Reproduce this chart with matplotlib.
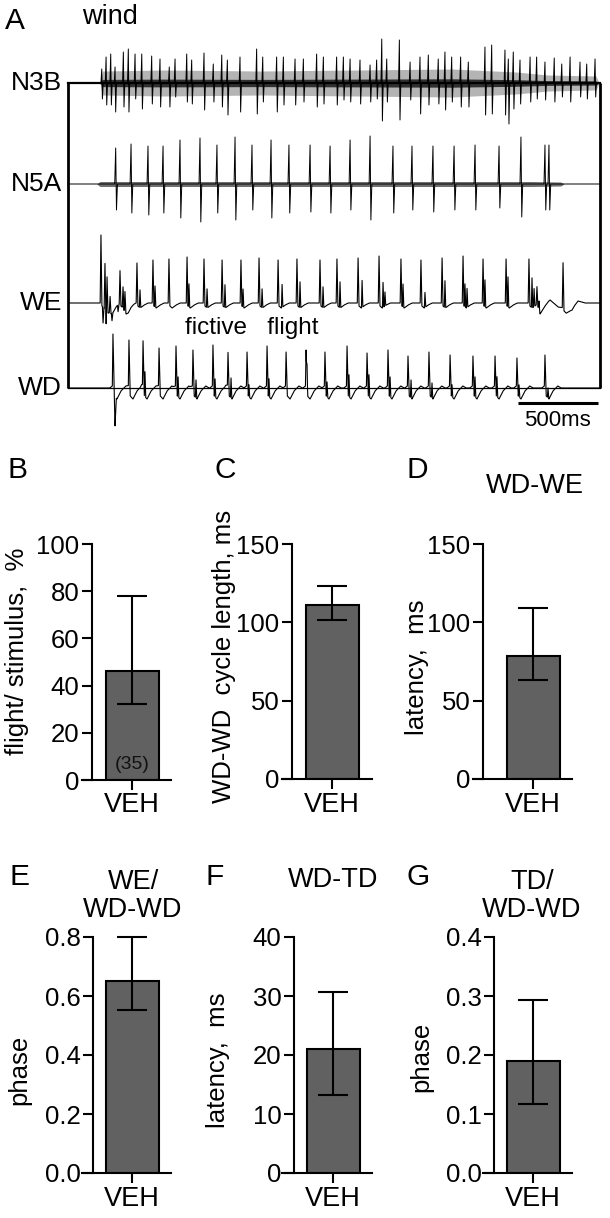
import numpy as np
import matplotlib

matplotlib.use("Agg")
import matplotlib.pyplot as plt

plt.rcParams["font.family"] = ["Liberation Sans", "DejaVu Sans"]

W, H = 610, 1218

# ---- panel A: recorded traces (spike times in ms from wind onset box edge, amplitudes in a.u.)
n3b_t = [211, 238, 267, 294, 346, 377, 419, 461, 523, 575, 633, 669, 742, 773, 850, 908,
         961, 996, 1075, 1179, 1217, 1304, 1346, 1419, 1471, 1554, 1596, 1679, 1721, 1763,
         1825, 1888, 1929, 1961, 1992, 2071, 2138, 2200, 2252, 2314, 2356, 2398, 2454, 2502,
         2606, 2648, 2731, 2752, 2783, 2825, 2888, 2929, 2981, 3039, 3086, 3138, 3200, 3242, 3294]
n3b_up = [14, 26, 29, 16, 31, 34, 29, 29, 27, 24, 16, 24, 29, 23, 30, 19,
          28, 23, 26, 34, 26, 26, 26, 24, 24, 29, 26, 26, 26, 24,
          23, 18, 23, 44, 24, 43, 21, 26, 28, 24, 31, 26, 26, 21,
          36, 38, 33, 24, 31, 23, 26, 26, 21, 25, 19, 26, 21, 19, 24]
n3b_down = [16, 22, 22, 29, 24, 29, 16, 26, 21, 24, 24, 14, 19, 21, 27, 19,
            24, 32, 29, 31, 19, 29, 22, 22, 19, 24, 21, 22, 17, 19,
            21, 19, 16, 38, 19, 37, 17, 31, 22, 21, 27, 19, 24, 24,
            32, 31, 32, 41, 26, 21, 19, 16, 17, 19, 14, 19, 14, 16, 14]
n3b_band_t = [200, 215, 600, 1200, 1800, 2400, 2800, 3000, 3300, 3320]
n3b_band = [0, 12, 13, 12, 13, 14, 11, 8, 7, 0]

n5a_t = [298, 394, 500, 594, 700, 825, 931, 1044, 1150, 1269, 1381, 1513, 1638, 1763,
         1888, 2031, 2150, 2281, 2413, 2544, 2694, 2831, 2981, 3006]
n5a_up = [36, 40, 38, 38, 44, 46, 39, 47, 39, 44, 39, 39, 38, 44,
          48, 38, 38, 38, 38, 39, 38, 47, 39, 39]
n5a_down = [26, 29, 31, 29, 34, 38, 29, 36, 26, 34, 29, 28, 29, 26,
            36, 29, 26, 28, 26, 26, 24, 33, 26, 26]
n5a_band_t = [180, 200, 1500, 2900, 3080, 3100]
n5a_band = [0, 2.5, 2.5, 2.5, 2, 0]

we_t = [206, 231, 244, 263, 325, 344, 356, 431, 531, 631, 744, 850, 963, 1081, 1194,
        1313, 1431, 1575, 1681, 1813, 1944, 2081, 2206, 2338, 2469, 2594, 2738, 2881,
        2931, 3094]
we_h = [68, 44, 33, 16, 33, 21, 19, 40, 43, 44, 46, 44, 43, 43, 45,
        43, 44, 43, 44, 45, 47, 44, 43, 45, 47, 44, 44, 44, 18, 45]
we_sec_t = [450, 544, 756, 869, 981, 1094, 1213, 1338, 1450, 1594, 1700, 1838, 1969,
            1981, 2094, 2231, 2356, 2481, 2494, 2606, 2750, 2900, 2913, 2944]
we_sec_h = [18, 21, 23, 19, 23, 18, 19, 23, 26, 21, 26, 27, 25,
            14, 23, 15, 27, 23, 19, 27, 30, 30, 18, 9]
we_neg_t = [219, 238, 275, 313]
we_neg_h = [-16, -14, -8, -7]
we_wave_t = [2940, 2950, 3013, 3063, 3150, 3188, 3231, 3260]
we_wave_v = [0, -6, 3, -4, -6, 2, 0, 0]

wd_t = [281, 381, 469, 569, 675, 781, 906, 1000, 1119, 1244, 1363, 1488, 1606, 1744,
        1869, 2000, 2125, 2256, 2388, 2531, 2669, 2806, 2981]
wd_h = [54, 48, 46, 40, 42, 38, 43, 35, 36, 42, 36, 38, 36, 42,
        35, 38, 32, 36, 33, 32, 32, 30, 33]
wd_sec_t = [481, 688, 800, 919, 1019, 1131, 1256, 1494, 1619, 1756, 1881, 2013, 2144,
            2275, 2400, 2544, 2681, 2819, 3000]
wd_sec_h = [25, 20, 18, 18, 20, 12, 18, 20, 15, 22, 22, 20, 18, 15, 12, 20, 20, 12, 10]
wd_neg_t = [294]
wd_neg_h = [-29]

# ---- panels B-G: mean with asymmetric error bars
panel_names = ["B", "C", "D", "E", "F", "G"]
bar_mean = [46, 111, 78.5, 0.652, 21.1, 0.19]
bar_lo = [32, 101.5, 63.5, 0.553, 13.2, 0.117]
bar_hi = [78, 123, 109, 0.80, 30.7, 0.293]
ylims = [100, 150, 150, 0.8, 40, 0.4]
yticks = [[0, 20, 40, 60, 80, 100], [0, 50, 100, 150], [0, 50, 100, 150],
          [0.0, 0.2, 0.4, 0.6, 0.8], [0, 10, 20, 30, 40], [0.0, 0.1, 0.2, 0.3, 0.4]]
ytick_fmt = ["{:g}", "{:g}", "{:g}", "{:.1f}", "{:g}", "{:.1f}"]
ylabels = ["flight/ stimulus,  %", "WD-WD  cycle length, ms", "latency,  ms",
           "phase", "latency,  ms", "phase"]
titles = [None, None, "WD-WE", "WE/\nWD-WD", "WD-TD", "TD/\nWD-WD"]
group = "VEH"
n_label = "(35)"

GRID = np.arange(0, 3326, 1.0)
FS = 18.5


def fx(px):
    return px / W


def fy(px):
    return 1 - px / H


def add_spikes(y, times, heights, dt, peak, tail=None):
    dt = np.asarray(dt, dtype=float)
    peak = np.asarray(peak, dtype=float)
    tail = np.zeros_like(peak) if tail is None else np.asarray(tail, dtype=float)
    for t, h in zip(times, heights):
        y += np.interp(GRID, t + dt, h * peak + tail, left=0, right=0)
    return y


def draw_traces(fig):
    ax = fig.add_axes([fx(68), fy(440), fx(532), 420 / H])
    ax.set_xlim(0, 3325)
    ax.set_ylim(-357, 63)
    ax.axis("off")
    off = {"N3B": 0, "N5A": -101, "WE": -220, "WD": -305}

    # N3B: dense multiunit band + larger units
    band = np.interp(GRID, n3b_band_t, n3b_band)
    ax.fill_between(GRID, off["N3B"] + band, off["N3B"] - band, color="#b4b4b4", lw=0)
    ax.fill_between(GRID, off["N3B"] + band * 0.3, off["N3B"] - band * 0.3,
                    color="#303030", lw=0)
    y = np.zeros_like(GRID)
    add_spikes(y, n3b_t, n3b_up, [-5, 0, 4, 9], [0, 1, 0, 0])
    add_spikes(y, n3b_t, n3b_down, [-5, 0, 4, 9], [0, 0, -1, 0])
    ax.plot(GRID, off["N3B"] + y, color="black", lw=0.7)

    # N5A
    band = np.interp(GRID, n5a_band_t, n5a_band)
    ax.fill_between(GRID, off["N5A"] + band, off["N5A"] - band, color="#707070", lw=0)
    y = np.zeros_like(GRID)
    add_spikes(y, n5a_t, n5a_up, [-6, 0, 5, 11], [0, 1, 0, 0])
    add_spikes(y, n5a_t, n5a_down, [-6, 0, 5, 11], [0, 0, -1, 0])
    ax.plot(GRID, off["N5A"] + y, color="black", lw=0.7)

    # WE intracellular
    y = np.zeros_like(GRID)
    add_spikes(y, we_t, we_h, [-5, 0, 6, 20, 45, 70], [0, 1, 0, 0, 0, 0],
               [0, 0, -3, -5, -2, 0])
    add_spikes(y, we_sec_t, we_sec_h, [-4, 0, 5], [0, 1, 0])
    add_spikes(y, we_neg_t, we_neg_h, [-4, 0, 6], [0, 1, 0])
    y += np.interp(GRID, we_wave_t, we_wave_v, left=0, right=0)
    ax.plot(GRID, off["WE"] + y, color="black", lw=0.8)

    # WD intracellular
    y = np.zeros_like(GRID)
    add_spikes(y, wd_t, wd_h, [-20, -4, 0, 8, 25, 50, 80, 100],
               [0, 0, 1, 0, 0, 0, 0, 0], [0, 2, 0, -8, -11, -3, 2, 0])
    add_spikes(y, wd_sec_t, wd_sec_h, [-4, 0, 5], [0, 1, 0])
    add_spikes(y, wd_neg_t, wd_neg_h, [-5, 0, 8], [0, 1, 0])
    ax.plot(GRID, off["WD"] + y, color="black", lw=0.8)

    # wind stimulus box
    kw = dict(color="black", lw=2.0, solid_capstyle="butt", clip_on=False)
    ax.plot([0, 0], [off["N3B"], off["WD"]], **kw)
    ax.plot([3325, 3325], [off["N3B"], off["WD"]], **kw)
    ax.plot([0, 3325], [off["N3B"], off["N3B"]], color="black", lw=1.6, clip_on=False)
    ax.plot([0, 3325], [off["WD"], off["WD"]], color="black", lw=0.9, clip_on=False)

    # scale bar
    ax.plot([2812, 3312], [-320, -320], color="black", lw=2.2, solid_capstyle="butt")
    ax.text(3062, -337, "500ms", ha="center", va="center", fontsize=16)
    ax.text(731, -245, "fictive   flight", ha="left", va="center", fontsize=17.5)

    for name, ypx in [("N3B", 83), ("N5A", 184), ("WE", 303), ("WD", 388)]:
        fig.text(fx(62), fy(ypx), name, ha="right", va="center", fontsize=19)
    fig.text(fx(5), fy(21), "A", ha="left", va="center", fontsize=21.5)
    fig.text(fx(82), fy(17), "wind", ha="left", va="center", fontsize=19.5)


def draw_bar(fig, i, line0, line1, spine, center, y_zero, y_top, ylab_x, ylab_y,
             letter_xy, title_xy):
    bw = 53.0
    ax = fig.add_axes([fx(line0), fy(y_zero), (line1 - line0) / W, (y_zero - y_top) / H])
    ax.set_xlim((line0 - center) / bw, (line1 - center) / bw)
    ax.set_ylim(0, ylims[i])
    err = [[bar_mean[i] - bar_lo[i]], [bar_hi[i] - bar_mean[i]]]
    ax.bar([0], [bar_mean[i]], width=1.0, color="#616161", edgecolor="black",
           linewidth=1.5, zorder=2)
    ax.errorbar([0], [bar_mean[i]], yerr=err, fmt="none", ecolor="black",
                elinewidth=1.5, capsize=11, capthick=1.5, zorder=3, clip_on=False)
    for s in ["top", "right"]:
        ax.spines[s].set_visible(False)
    ax.spines["left"].set_position(("data", (spine - center) / bw))
    ax.spines["left"].set_linewidth(1.5)
    ax.spines["bottom"].set_linewidth(1.5)
    ax.set_yticks(yticks[i])
    ax.set_yticklabels([ytick_fmt[i].format(v) for v in yticks[i]])
    ax.set_xticks([0])
    ax.set_xticklabels([group])
    ax.tick_params(labelsize=FS, length=7, width=1.5, pad=2)
    ax.tick_params(axis="x", labelsize=19.5)
    ax.set_ylim(0, ylims[i])
    fig.text(fx(ylab_x), fy(ylab_y), ylabels[i], rotation=90, ha="center", va="center",
             fontsize=FS)
    fig.text(fx(letter_xy[0]), fy(letter_xy[1]), panel_names[i], ha="left", va="center",
             fontsize=21.5)
    if titles[i]:
        fig.text(fx(title_xy[0]), fy(title_xy[1]), titles[i], ha="center", va="center",
                 fontsize=19.5, linespacing=1.1)
    if i == 0:
        ax.text(0, 6.5, n_label, ha="center", va="center", fontsize=14, color="#111111",
                zorder=4)
    return ax


def main():
    fig = plt.figure(figsize=(W / 100, H / 100), dpi=100)
    draw_traces(fig)

    # line start, line end, spine x, bar centre (px); zero / top y (px)
    draw_bar(fig, 0, 82, 171, 92, 132, 780, 544, 17, 651, (7, 470), None)
    draw_bar(fig, 1, 282, 372, 292, 332, 779, 544, 224, 656, (214, 470), None)
    draw_bar(fig, 2, 473, 572, 483, 533, 779, 544, 417, 667, (406, 470), (535, 486))
    draw_bar(fig, 3, 82, 171, 93, 132, 1173, 937, 19, 1070, (9, 877), (133, 896))
    draw_bar(fig, 4, 282, 372, 294, 333, 1173, 937, 218, 1060, (205, 877), (333, 880))
    draw_bar(fig, 5, 483, 572, 494, 533, 1173, 937, 421, 1057, (406, 877), (532, 896))

    fig.savefig("out.png", dpi=100)
    plt.close(fig)


if __name__ == "__main__":
    main()
